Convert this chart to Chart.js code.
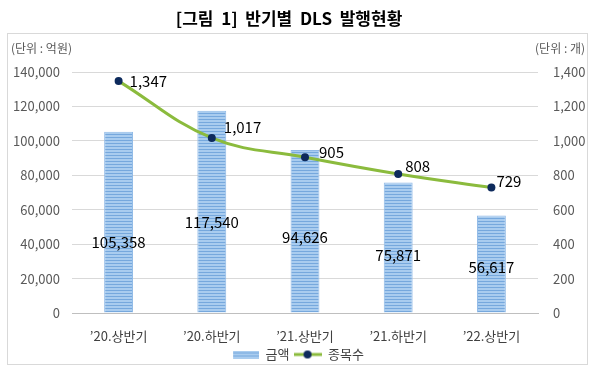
<!DOCTYPE html>
<html>
<head>
<meta charset="utf-8">
<script src="https://cdn.jsdelivr.net/npm/chart.js@4/dist/chart.umd.min.js"></script>
<style>
body { margin: 0; background: #fff; }
</style>
</head>
<body>
<canvas id="myChart" width="596" height="377"></canvas>
<script>
// data
const periods = ['’20.상반기', '’20.하반기', '’21.상반기', '’21.하반기', '’22.상반기'];
const amounts = [105358, 117540, 94626, 75871, 56617];   // 금액 (억원)
const counts = [1347, 1017, 905, 808, 729];              // 종목수 (개)
const amountTicks = [0, 20000, 40000, 60000, 80000, 100000, 120000, 140000];
const countTicks = [0, 200, 400, 600, 800, 1000, 1200, 1400];

const FONT = '"Noto Sans CJK KR", "Noto Sans", sans-serif';

function stripes(w, h) {
    const c = document.createElement('canvas');
    c.width = w; c.height = h;
    const g = c.getContext('2d');
    g.fillStyle = '#a9ccef';
    g.fillRect(0, 0, w, h);
    g.fillStyle = '#76a8dd';
    for (let y = 2; y < h; y += 3) g.fillRect(0, y, w, 1);
    return c;
}
const barPattern = stripes(4, 3).getContext('2d').createPattern(stripes(4, 3), 'repeat');

function barLegendIcon() {
    const c = document.createElement('canvas');
    c.width = 28; c.height = 8;
    const g = c.getContext('2d');
    g.fillStyle = g.createPattern(stripes(4, 3), 'repeat');
    g.fillRect(2, 0, 26, 8);
    return c;
}
function lineLegendIcon() {
    const c = document.createElement('canvas');
    c.width = 28; c.height = 10;
    const g = c.getContext('2d');
    g.strokeStyle = '#8bbb3d';
    g.lineWidth = 3;
    g.beginPath(); g.moveTo(0, 5); g.lineTo(28, 5); g.stroke();
    g.fillStyle = '#0d2a5c';
    g.beginPath(); g.arc(14, 5, 4, 0, Math.PI * 2); g.fill();
    return c;
}

// frame, title and unit captions
const framePlugin = {
    id: 'frame',
    beforeDraw(chart) {
        const ctx = chart.ctx;
        ctx.save();
        ctx.strokeStyle = '#d9d9d9';
        ctx.lineWidth = 1;
        ctx.strokeRect(7.5, 33.5, 580, 331);
        ctx.fillStyle = '#000';
        ctx.font = 'bold 17px ' + FONT;
        ctx.textAlign = 'center';
        ctx.textBaseline = 'middle';
        ctx.fillText('[그림  1]  반기별  DLS  발행현황', 289, 19);
        ctx.font = '12px ' + FONT;
        ctx.fillStyle = '#595959';
        ctx.textAlign = 'left';
        ctx.fillText('(단위 : 억원)', 11, 48);
        ctx.textAlign = 'right';
        ctx.fillText('(단위 : 개)', 585, 48);
        ctx.restore();
    }
};

// value labels
const labelPlugin = {
    id: 'valueLabels',
    afterDatasetsDraw(chart, args, opts) {
        const ctx = chart.ctx;
        ctx.save();
        ctx.font = '15px ' + FONT;
        ctx.fillStyle = '#000';
        ctx.textBaseline = 'middle';

        const bars = chart.getDatasetMeta(0).data;
        ctx.textAlign = 'center';
        bars.forEach((bar, i) => {
            const mid = (bar.y + bar.base) / 2;
            ctx.fillText(amounts[i].toLocaleString('en-US'), bar.x, mid + opts.barDy[i]);
        });

        const pts = chart.getDatasetMeta(1).data;
        ctx.textAlign = 'left';
        pts.forEach((p, i) => {
            ctx.fillText(counts[i].toLocaleString('en-US'), p.x + opts.lineDx[i], p.y + opts.lineDy[i]);
        });
        ctx.restore();
    }
};

const ctx = document.getElementById('myChart').getContext('2d');
const chart = new Chart(ctx, {
    data: {
        labels: periods,
        datasets: [
            {
                type: 'bar',
                label: '금액',
                data: amounts,
                yAxisID: 'y',
                backgroundColor: barPattern,
                borderColor: '#8fb9e6',
                borderWidth: 1,
                barPercentage: 0.31,
                categoryPercentage: 1,
                order: 2
            },
            {
                type: 'line',
                label: '종목수',
                data: counts,
                yAxisID: 'y1',
                borderColor: '#8bbb3d',
                borderWidth: 3,
                tension: 0.4,
                pointRadius: 4,
                pointBackgroundColor: '#0d2a5c',
                pointBorderColor: '#0d2a5c',
                pointBorderWidth: 0,
                order: 1
            }
        ]
    },
    options: {
        responsive: false,
        animation: false,
        layout: { padding: { left: 7, right: 8, top: 72, bottom: 6 } },
        scales: {
            x: {
                grid: { display: false, drawTicks: false },
                border: { color: '#bfbfbf' },
                ticks: { color: '#404040', font: { family: FONT, size: 13 }, padding: 15, maxRotation: 0 },
                afterFit(scale) { scale.height = 31; }
            },
            y: {
                position: 'left',
                min: 0,
                max: amountTicks[amountTicks.length - 1],
                afterBuildTicks(scale) { scale.ticks = amountTicks.map(v => ({ value: v })); },
                grid: { color: '#d9d9d9', drawTicks: false },
                border: { display: false },
                ticks: {
                    color: '#595959',
                    font: { family: FONT, size: 13 },
                    padding: 12,
                    callback: v => v.toLocaleString('en-US')
                },
                afterFit(scale) { scale.width = 65; }
            },
            y1: {
                position: 'right',
                min: 0,
                max: countTicks[countTicks.length - 1],
                afterBuildTicks(scale) { scale.ticks = countTicks.map(v => ({ value: v })); },
                grid: { display: false, drawTicks: false },
                border: { display: false },
                ticks: {
                    color: '#595959',
                    font: { family: FONT, size: 13 },
                    padding: 15,
                    callback: v => v.toLocaleString('en-US')
                },
                afterFit(scale) { scale.width = 50; }
            }
        },
        plugins: {
            title: { display: false },
            tooltip: { enabled: false },
            legend: {
                position: 'bottom',
                labels: {
                    color: '#404040',
                    font: { family: FONT, size: 13 },
                    usePointStyle: true,
                    pointStyleWidth: 28,
                    padding: 4,
                    generateLabels(chart) {
                        return [
                            { text: '금액', pointStyle: barLegendIcon(), datasetIndex: 0, fontColor: '#404040', lineWidth: 0, strokeStyle: 'transparent', fillStyle: 'transparent' },
                            { text: '종목수', pointStyle: lineLegendIcon(), datasetIndex: 1, fontColor: '#404040', lineWidth: 0, strokeStyle: 'transparent', fillStyle: 'transparent' }
                        ];
                    }
                }
            },
            valueLabels: {
                barDy: [20, 11, 6, 8, 3],
                lineDx: [11, 12, 14, 7, 5],
                lineDy: [0, -11, -5, -8, -6]
            }
        }
    },
    plugins: [framePlugin, labelPlugin]
});
</script>
</body>
</html>
